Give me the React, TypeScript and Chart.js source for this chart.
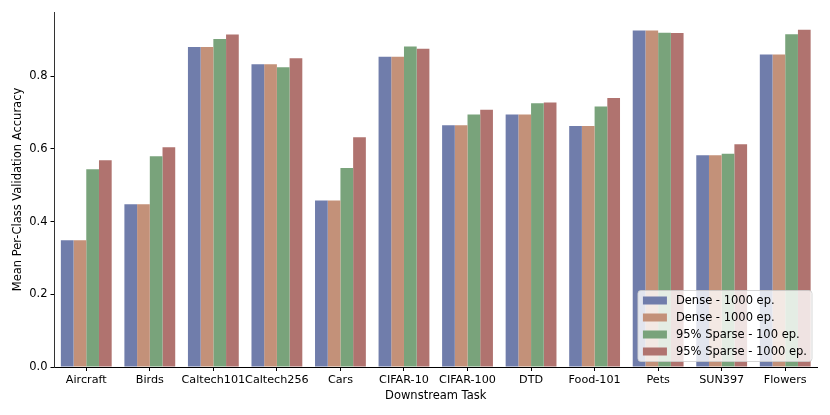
import { useRef, useEffect } from 'react';
import { Chart, registerables } from 'chart.js';

Chart.register(...registerables);

const tasks = ['Aircraft', 'Birds', 'Caltech101', 'Caltech256', 'Cars', 'CIFAR-10', 'CIFAR-100', 'DTD', 'Food-101', 'Pets', 'SUN397', 'Flowers'];
const dense1000a = [0.349, 0.448, 0.881, 0.833, 0.458, 0.854, 0.665, 0.695, 0.663, 0.926, 0.583, 0.860];
const dense1000b = [0.349, 0.448, 0.881, 0.833, 0.458, 0.854, 0.665, 0.695, 0.663, 0.926, 0.583, 0.860];
const sparse100 = [0.544, 0.580, 0.903, 0.825, 0.548, 0.882, 0.695, 0.726, 0.717, 0.920, 0.587, 0.916];
const sparse1000 = [0.569, 0.605, 0.915, 0.850, 0.632, 0.876, 0.708, 0.728, 0.740, 0.919, 0.613, 0.928];
const yTicks = [0, 0.2, 0.4, 0.6, 0.8];

const FONT = 'DejaVu Sans';
const SIZE = 11.2;

// legend drawn inside the plot, lower right, like matplotlib's
const innerLegend = {
  id: 'innerLegend',
  afterDraw(chart) {
    const { ctx, chartArea } = chart;
    const sets = chart.data.datasets;
    ctx.save();
    ctx.font = `11.5px "${FONT}"`;
    const textW = Math.max(...sets.map((d) => ctx.measureText(d.label).width));
    const rowH = 17;
    const w = 5 + 24 + 9 + textW + 5;
    const h = sets.length * rowH + 3;
    const x = chartArea.right - 5 - w;
    const y = chartArea.bottom - 5.5 - h;
    ctx.beginPath();
    ctx.roundRect(x, y, w, h, 3);
    ctx.fillStyle = 'rgba(255,255,255,0.8)';
    ctx.fill();
    ctx.strokeStyle = 'rgba(204,204,204,0.8)';
    ctx.lineWidth = 1;
    ctx.stroke();
    sets.forEach((d, i) => {
      const cy = y + 10 + i * rowH;
      ctx.fillStyle = d.backgroundColor;
      ctx.fillRect(x + 5, cy - 4, 24, 8);
      ctx.fillStyle = '#000';
      ctx.textBaseline = 'middle';
      ctx.fillText(d.label, x + 5 + 24 + 9, cy + 0.5);
    });
    ctx.restore();
  },
};

const App = () => {
  const canvasRef = useRef(null);

  useEffect(() => {
    if (!canvasRef.current) return;

    const chart = new Chart(canvasRef.current, {
      type: 'bar',
      data: {
        labels: tasks,
        datasets: [
          { label: 'Dense - 1000 ep.', data: dense1000a, backgroundColor: '#707dab' },
          { label: 'Dense - 1000 ep.', data: dense1000b, backgroundColor: '#c39179' },
          { label: '95% Sparse - 100 ep.', data: sparse100, backgroundColor: '#79a37b' },
          { label: '95% Sparse - 1000 ep.', data: sparse1000, backgroundColor: '#b0736f' },
        ],
      },
      plugins: [innerLegend],
      options: {
        animation: false,
        responsive: false,
        devicePixelRatio: 1,
        layout: { padding: { top: 12, right: 13, left: 0, bottom: 0 } },
        datasets: { bar: { categoryPercentage: 0.8, barPercentage: 1.0 } },
        plugins: { legend: { display: false }, tooltip: { enabled: false } },
        scales: {
          x: {
            grid: { offset: false, drawOnChartArea: false, tickLength: 4, color: '#000' },
            border: { color: '#000', width: 1 },
            ticks: { autoSkip: false, maxRotation: 0, color: '#000', padding: 2, font: { family: FONT, size: SIZE } },
            title: { display: true, text: 'Downstream Task', color: '#000', font: { family: FONT, size: 11.5 }, padding: { top: 2, bottom: 12 } },
            afterFit: (s) => { s.height = 48; },
          },
          y: {
            min: 0,
            max: 0.977,
            afterBuildTicks: (s) => { s.ticks = yTicks.map((v) => ({ value: v })); },
            grid: { drawOnChartArea: false, tickLength: 4, color: '#000' },
            border: { color: '#333', width: 1 },
            ticks: { color: '#000', padding: 3, font: { family: FONT, size: 11.5 }, callback: (v) => Number(v).toFixed(1) },
            title: { display: true, text: 'Mean Per-Class Validation Accuracy', color: '#000', font: { family: FONT, size: 11.5 }, padding: { top: 11, bottom: 0 } },
            afterFit: (s) => { s.width = 54.5; },
          },
        },
      },
    });

    return () => chart.destroy();
  }, []);

  return (
    <div style={{ position: 'absolute', left: 0, top: 0, width: 830, height: 415, background: '#fff' }}>
      <canvas ref={canvasRef} width={830} height={415} />
    </div>
  );
};

export default App;
